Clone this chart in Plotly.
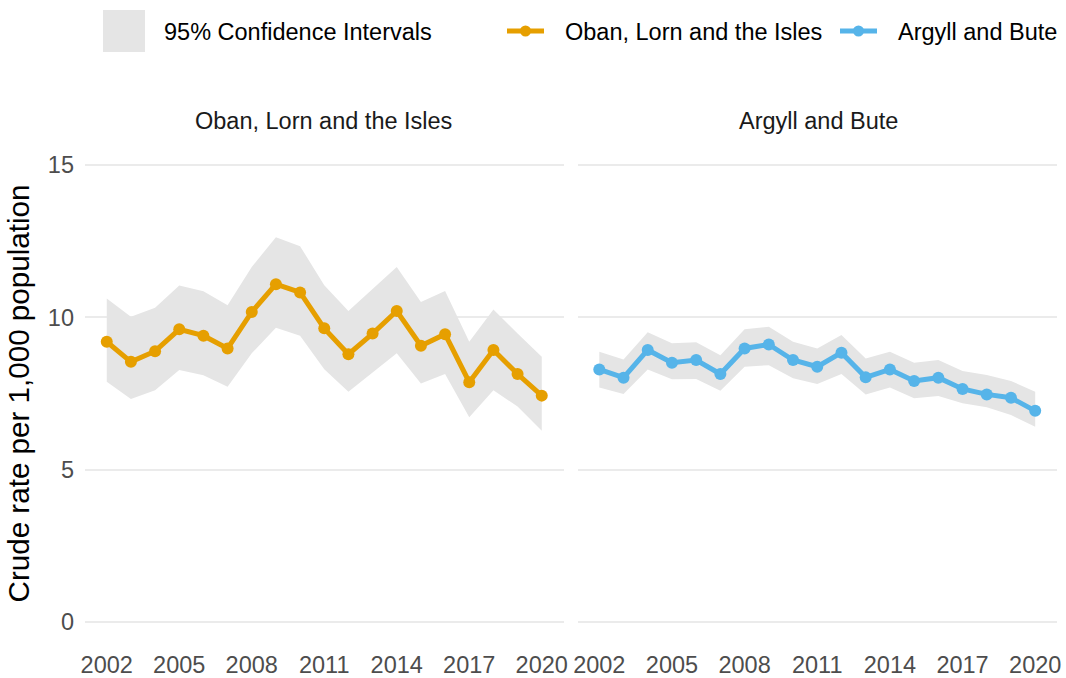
import plotly.graph_objects as go

years = list(range(2002, 2021))

oban_rate = [9.20, 8.54, 8.89, 9.61, 9.40, 8.98, 10.18, 11.09, 10.82, 9.64,
             8.79, 9.47, 10.21, 9.07, 9.45, 7.87, 8.93, 8.14, 7.43]
oban_upper = [10.62, 10.02, 10.32, 11.05, 10.86, 10.40, 11.66, 12.63, 12.34, 11.06,
              10.21, 10.95, 11.66, 10.51, 10.87, 9.20, 10.26, 9.47, 8.71]
oban_lower = [7.89, 7.32, 7.61, 8.27, 8.10, 7.72, 8.82, 9.66, 9.40, 8.30,
              7.56, 8.19, 8.82, 7.83, 8.14, 6.72, 7.61, 7.07, 6.28]

ab_rate = [8.29, 8.02, 8.93, 8.51, 8.60, 8.14, 8.98, 9.11, 8.60, 8.38,
           8.84, 8.03, 8.29, 7.91, 8.02, 7.65, 7.47, 7.36, 6.93]
ab_upper = [8.87, 8.62, 9.51, 9.15, 9.18, 8.76, 9.61, 9.69, 9.20, 8.98,
            9.42, 8.65, 8.87, 8.51, 8.60, 8.24, 8.11, 7.91, 7.56]
ab_lower = [7.70, 7.48, 8.29, 7.97, 7.98, 7.59, 8.38, 8.43, 8.00, 7.81,
            8.14, 7.47, 7.70, 7.34, 7.42, 7.18, 7.05, 6.79, 6.41]

panel_titles = ["Oban, Lorn and the Isles", "Argyll and Bute"]
legend_ci = "95% Confidence Intervals"
y_title = "Crude rate per 1,000 population"
x_ticks = [2002, 2005, 2008, 2011, 2014, 2017, 2020]
y_ticks = [0, 5, 10, 15]

ORANGE = "#E69F00"
BLUE = "#56B4E9"
CI_FILL = "#e5e5e5"
FONT = "Liberation Sans, Arial, sans-serif"
TXT = 23.5

W, H = 1066, 678
ML, MR, MT, MB = 85, 9, 150, 41
PW = W - ML - MR
PH = H - MT - MB


def px(x):
    return (x - ML) / PW


def py(y):
    return (H - MB - y) / PH


fig = go.Figure()

panels = [
    (oban_rate, oban_upper, oban_lower, ORANGE, "x", "y"),
    (ab_rate, ab_upper, ab_lower, BLUE, "x2", "y2"),
]
for rate, up, lo, col, xa, ya in panels:
    fig.add_trace(go.Scatter(x=years + years[::-1], y=up + lo[::-1], fill="toself",
                             fillcolor=CI_FILL, line=dict(width=0), mode="lines",
                             hoverinfo="skip", showlegend=False, xaxis=xa, yaxis=ya))
    fig.add_trace(go.Scatter(x=years, y=rate, mode="lines+markers",
                             line=dict(color=col, width=5),
                             marker=dict(color=col, size=12),
                             showlegend=False, xaxis=xa, yaxis=ya))

xcommon = dict(range=[2001.1, 2020.9], tickvals=x_ticks, showgrid=False, zeroline=False,
               showline=False, ticks="", tickfont=dict(size=TXT, color="#4d4d4d", family=FONT),
               ticklabelstandoff=11, automargin=False)
ycommon = dict(range=[-0.5, 15.5], tickvals=y_ticks, showgrid=True, gridcolor="#ebebeb",
               gridwidth=2, zeroline=False, showline=False, ticks="", automargin=False)

fig.update_layout(
    width=W, height=H,
    margin=dict(l=ML, r=MR, t=MT, b=MB, autoexpand=False),
    paper_bgcolor="white", plot_bgcolor="white",
    font=dict(family=FONT, color="#1a1a1a"),
    showlegend=False,
    xaxis=dict(domain=[0, px(563.5)], **xcommon),
    xaxis2=dict(domain=[px(577.5), 1], anchor="y2", **xcommon),
    yaxis=dict(**ycommon, tickfont=dict(size=TXT, color="#4d4d4d", family=FONT),
               ticklabelstandoff=10,
               title=dict(text=y_title, font=dict(size=29.6, color="#000000", family=FONT),
                          standoff=9)),
    yaxis2=dict(**ycommon, anchor="x2", showticklabels=False),
)

# panel strip titles
for i, t in enumerate(panel_titles):
    cx = [px(323), px(818)][i]
    fig.add_annotation(text=t, x=cx, y=py(121), xref="paper", yref="paper",
                       showarrow=False, font=dict(size=TXT, color="#1a1a1a", family=FONT),
                       xanchor="center", yanchor="middle")

# manual legend
fig.add_shape(type="rect", xref="paper", yref="paper", x0=px(103), x1=px(145),
              y0=py(52), y1=py(10), fillcolor=CI_FILL, line=dict(width=0))
fig.add_annotation(text=legend_ci, x=px(162), y=py(32), xref="paper", yref="paper",
                   showarrow=False, xanchor="left", yanchor="middle",
                   font=dict(size=TXT, color="#000000", family=FONT))
for (x0, x1, tx, col, label) in [(507, 544, 563, ORANGE, panel_titles[0]),
                                  (840, 877, 896, BLUE, panel_titles[1])]:
    fig.add_shape(type="line", xref="paper", yref="paper", x0=px(x0), x1=px(x1),
                  y0=py(31), y1=py(31), line=dict(color=col, width=5))
    cx = (x0 + x1) / 2
    fig.add_shape(type="circle", xref="paper", yref="paper", x0=px(cx - 5.5), x1=px(cx + 5.5),
                  y0=py(36.5), y1=py(25.5), fillcolor=col, line=dict(width=0))
    fig.add_annotation(text=label, x=px(tx), y=py(32), xref="paper", yref="paper",
                       showarrow=False, xanchor="left", yanchor="middle",
                       font=dict(size=TXT, color="#000000", family=FONT))

fig.write_html("out.html", config={"displayModeBar": False},
               post_script="document.body.style.margin='0px';document.body.style.overflow='hidden';")
